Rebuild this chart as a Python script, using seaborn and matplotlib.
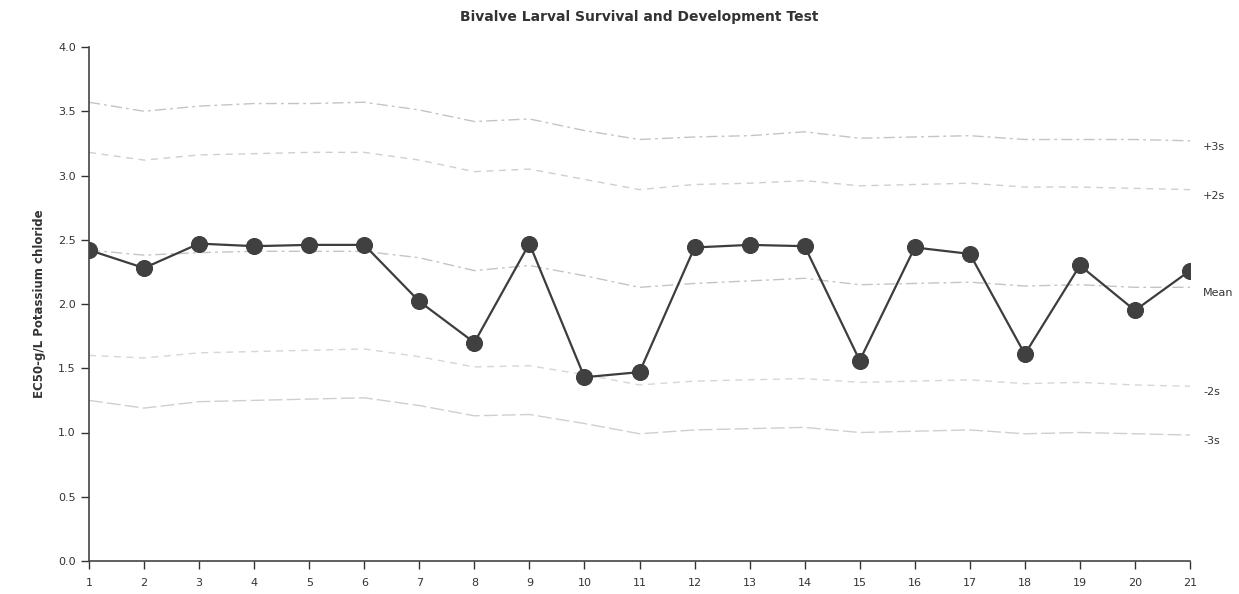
import matplotlib
matplotlib.use("Agg")
import matplotlib.pyplot as plt
import seaborn as sns
import pandas as pd

test_no = list(range(1, 22))
ec50 = [2.42, 2.28, 2.47, 2.45, 2.46, 2.46, 2.02, 1.70, 2.47, 1.43, 1.47,
        2.44, 2.46, 2.45, 1.56, 2.44, 2.39, 1.61, 2.30, 1.95, 2.26]
mean_line = [2.42, 2.38, 2.40, 2.41, 2.41, 2.41, 2.36, 2.26, 2.30, 2.22, 2.13,
             2.16, 2.18, 2.20, 2.15, 2.16, 2.17, 2.14, 2.15, 2.13, 2.13]
plus3s = [3.57, 3.50, 3.54, 3.56, 3.56, 3.57, 3.51, 3.42, 3.44, 3.35, 3.28,
          3.30, 3.31, 3.34, 3.29, 3.30, 3.31, 3.28, 3.28, 3.28, 3.27]
plus2s = [3.18, 3.12, 3.16, 3.17, 3.18, 3.18, 3.12, 3.03, 3.05, 2.97, 2.89,
          2.93, 2.94, 2.96, 2.92, 2.93, 2.94, 2.91, 2.91, 2.90, 2.89]
minus2s = [1.60, 1.58, 1.62, 1.63, 1.64, 1.65, 1.59, 1.51, 1.52, 1.45, 1.37,
           1.40, 1.41, 1.42, 1.39, 1.40, 1.41, 1.38, 1.39, 1.37, 1.36]
minus3s = [1.25, 1.19, 1.24, 1.25, 1.26, 1.27, 1.21, 1.13, 1.14, 1.07, 0.99,
           1.02, 1.03, 1.04, 1.00, 1.01, 1.02, 0.99, 1.00, 0.99, 0.98]
limit_labels = ["+3s", "+2s", "Mean", "-2s", "-3s"]
y_ticks = [0.0, 0.5, 1.0, 1.5, 2.0, 2.5, 3.0, 3.5, 4.0]

title = "Bivalve Larval Survival and Development Test"
ylabel = "EC50-g/L Potassium chloride"

sns.set_theme(style="ticks")
plt.rcParams["font.family"] = ["DejaVu Sans"]

fig = plt.figure(figsize=(12.39, 5.94), dpi=100)
ax = fig.add_axes([89 / 1239, 33 / 594, 1101 / 1239, 514 / 594])

limits = [plus3s, plus2s, mean_line, minus2s, minus3s]
styles = [(8, 3, 2, 3), (5, 4), (8, 3, 2, 3), (5, 4), (10, 3)]
colors = ["#c4c4c4", "#cfcfcf", "#c4c4c4", "#d6d6d6", "#cfcfcf"]
for vals, lab, dsh, col in zip(limits, limit_labels, styles, colors):
    df = pd.DataFrame({"x": test_no, "y": vals})
    sns.lineplot(data=df, x="x", y="y", ax=ax, color=col, linewidth=1.0,
                 dashes=False, legend=False)
    ax.lines[-1].set_dashes(dsh)
    ax.annotate(lab, xy=(test_no[-1], vals[-1]), xytext=(13, -6),
                textcoords="offset pixels", ha="left", va="center",
                fontsize=8, color="#333333")

main = pd.DataFrame({"x": test_no, "y": ec50})
sns.lineplot(data=main, x="x", y="y", ax=ax, color="#3d3d3d", linewidth=1.6,
             marker="o", markersize=11.5, markeredgecolor="#3d3d3d",
             markerfacecolor="#404040", legend=False)

ax.set_xlim(1, 21)
ax.set_ylim(0, 4)
ax.set_xticks(test_no)
ax.set_xticklabels([str(v) for v in test_no])
ax.set_yticks(y_ticks)
ax.set_yticklabels([f"{v:.1f}" for v in y_ticks])
ax.tick_params(axis="both", labelsize=8, colors="#333333", length=6,
               width=1, direction="out")
ax.tick_params(axis="x", pad=6)
for s in ["top", "right"]:
    ax.spines[s].set_visible(False)
for s in ["left", "bottom"]:
    ax.spines[s].set_color("#444444")
    ax.spines[s].set_linewidth(1.2)

ax.set_xlabel("")
ax.set_ylabel(ylabel, fontsize=8.5, fontweight="bold", color="#333333",
              labelpad=9)
ax.set_title(title, fontsize=10, fontweight="bold", color="#333333", pad=19)

fig.savefig("out.png", dpi=100)
